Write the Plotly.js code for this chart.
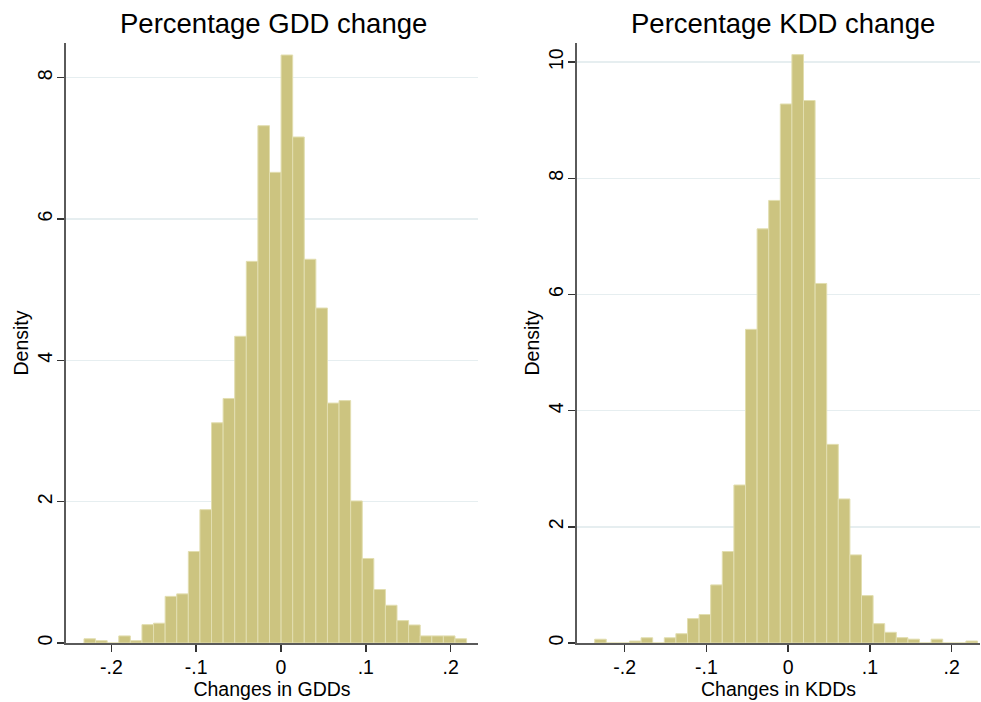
<!DOCTYPE html>
<html>
<head>
<meta charset="utf-8">
<script src="https://cdn.plot.ly/plotly-3.0.1.min.js"></script>
<style>
  html, body { margin: 0; padding: 0; background: #fff; }
  #chart { width: 981px; height: 702px; }
</style>
</head>
<body>
<div id="chart"></div>
<script>
// Histogram bins (density scale) for the percentage change in GDDs
const gddBinStart = -0.2323;
const gddBinWidth = 0.01367;
const gddDensity = [
  0.06, 0.033, 0, 0.10, 0.033, 0.26, 0.28, 0.66, 0.695, 1.295, 1.887,
  3.116, 3.46, 4.34, 5.40, 7.32, 6.66, 8.32, 7.16, 5.43, 4.74, 3.395,
  3.43, 2.01, 1.196, 0.757, 0.534, 0.317, 0.255, 0.10, 0.10, 0.10, 0.06
];

// Histogram bins (density scale) for the percentage change in KDDs
const kddBinStart = -0.2367;
const kddBinWidth = 0.01419;
const kddDensity = [
  0.065, 0, 0, 0.034, 0.09, 0, 0.09, 0.16, 0.42, 0.49, 1.0,
  1.575, 2.72, 5.40, 7.13, 7.62, 9.28, 10.13, 9.34, 6.19, 3.42, 2.48,
  1.517, 0.816, 0.333, 0.184, 0.092, 0.066, 0, 0.066, 0, 0, 0.034
];

// Axis ticks shared by both panels
const xTickVals = [-0.2, -0.1, 0, 0.1, 0.2];
const xTickText = ['-.2', '-.1', '0', '.1', '.2'];
const gddYTicks = [0, 2, 4, 6, 8];
const kddYTicks = [0, 2, 4, 6, 8, 10];

const titles = ['Percentage GDD change', 'Percentage KDD change'];
const xTitles = ['Changes in GDDs', 'Changes in KDDs'];

function binCenters(start, width, n) {
  const c = [];
  for (let i = 0; i < n; i++) c.push(start + width * (i + 0.5));
  return c;
}

const barFill = 'rgb(204,196,128)';
const barEdge = 'rgb(226,222,176)';

const traces = [
  {
    type: 'bar',
    x: binCenters(gddBinStart, gddBinWidth, gddDensity.length),
    y: gddDensity,
    width: gddBinWidth,
    marker: { color: barFill, line: { color: barEdge, width: 1 } },
    xaxis: 'x', yaxis: 'y',
    hoverinfo: 'x+y'
  },
  {
    type: 'bar',
    x: binCenters(kddBinStart, kddBinWidth, kddDensity.length),
    y: kddDensity,
    width: kddBinWidth,
    marker: { color: barFill, line: { color: barEdge, width: 1 } },
    xaxis: 'x2', yaxis: 'y2',
    hoverinfo: 'x+y'
  }
];

const font = { family: 'Liberation Sans, Arial, Helvetica, sans-serif', color: '#000' };
const axisColor = '#5a5a5a';
const gridColor = '#e6eef0';

function xAxis(domain, range, anchor, title) {
  return {
    domain: domain, range: range, anchor: anchor,
    tickvals: xTickVals, ticktext: xTickText,
    ticks: 'outside', ticklen: 7, tickwidth: 1.5, tickcolor: '#333',
    showline: true, linecolor: axisColor, linewidth: 2,
    showgrid: false, zeroline: false,
    tickfont: { size: 19.5 },
    ticklabelstandoff: -1,
    title: { text: title, font: { size: 19.5 }, standoff: 0 }
  };
}

function yAxis(range, ticks, anchor) {
  return {
    domain: [0, 1], range: range, anchor: anchor,
    tickvals: ticks, tickangle: -90,
    ticks: 'outside', ticklen: 7, tickwidth: 1.5, tickcolor: '#333',
    showline: true, linecolor: axisColor, linewidth: 2,
    showgrid: true, gridcolor: gridColor, gridwidth: 1.5,
    zeroline: false,
    tickfont: { size: 19.5 },
    ticklabelstandoff: -3,
    title: { text: 'Density', font: { size: 19.5 }, standoff: 0 }
  };
}

const layout = {
  width: 981, height: 702,
  margin: { l: 66, r: 1, t: 43, b: 59 },
  paper_bgcolor: '#fff', plot_bgcolor: '#fff',
  font: font,
  showlegend: false,
  bargap: 0,
  xaxis: xAxis([0, 0.4508], [-0.2535, 0.2323], 'y', xTitles[0]),
  yaxis: yAxis([0, 8.49], gddYTicks, 'x'),
  xaxis2: xAxis([0.5591, 1], [-0.2583, 0.2346], 'y2', xTitles[1]),
  yaxis2: yAxis([0, 10.33], kddYTicks, 'x2'),
  annotations: [
    { text: titles[0], xref: 'paper', yref: 'paper', x: 0.2265, y: 1,
      xanchor: 'center', yanchor: 'middle', yshift: 20,
      showarrow: false, font: { size: 27.5 } },
    { text: titles[1], xref: 'paper', yref: 'paper', x: 0.7845, y: 1,
      xanchor: 'center', yanchor: 'middle', yshift: 20,
      showarrow: false, font: { size: 27.5 } }
  ]
};

Plotly.newPlot('chart', traces, layout, { displayModeBar: false, staticPlot: true });
</script>
</body>
</html>
